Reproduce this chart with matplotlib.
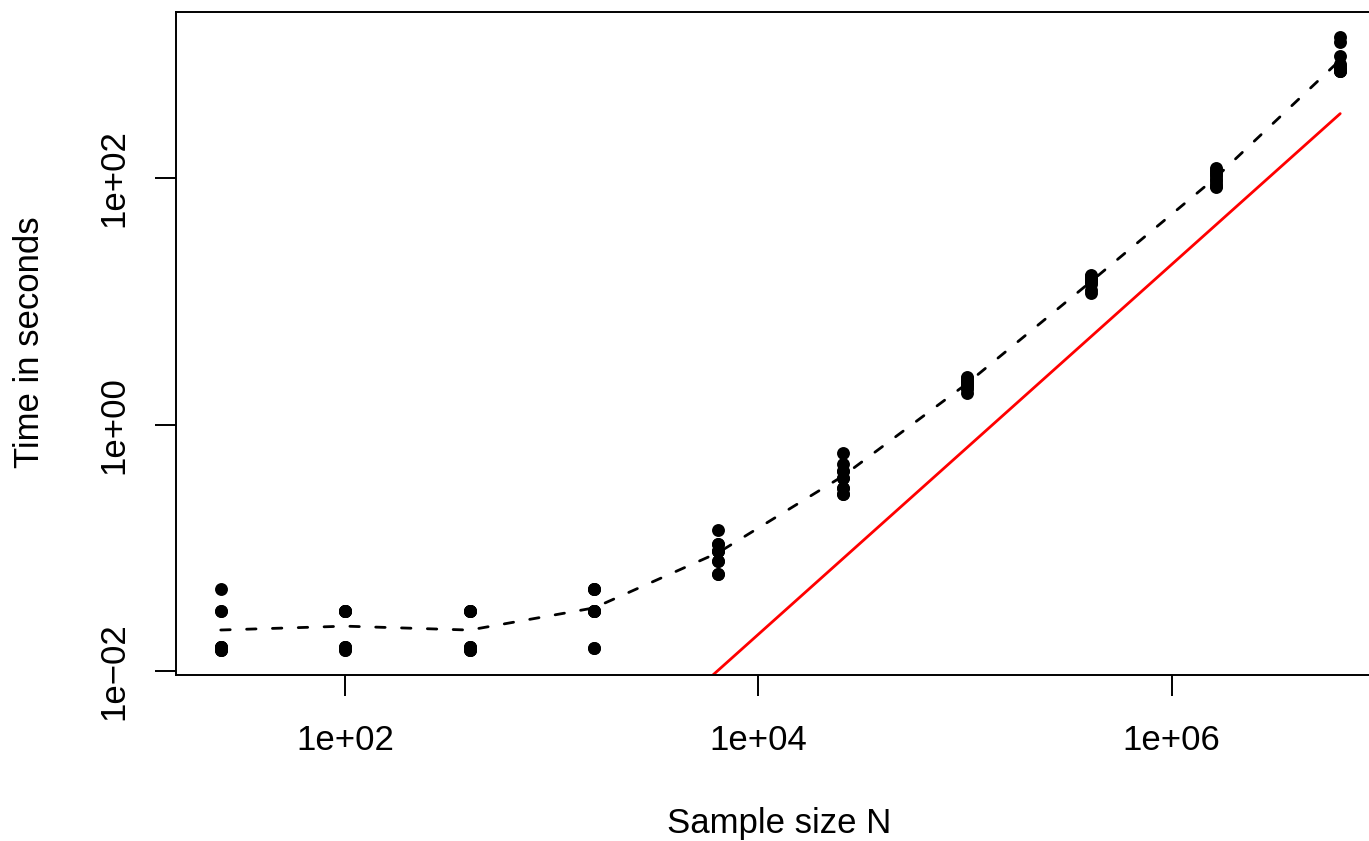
import matplotlib
matplotlib.use("Agg")
import matplotlib.pyplot as plt
import numpy as np

# sample sizes (factor 4 steps)
sizes = [25, 100, 400, 1600, 6400, 25600, 102400, 409600, 1638400, 6553600]

# 10 timing runs per sample size (seconds)
t_25 = [0.0468, 0.0312, 0.0312, 0.0158, 0.0158, 0.0158, 0.0158, 0.0148, 0.0148, 0.0148]
t_100 = [0.0312, 0.0312, 0.0312, 0.0312, 0.0312, 0.0158, 0.0158, 0.0158, 0.0148, 0.0148]
t_400 = [0.0312, 0.0312, 0.0312, 0.0312, 0.0158, 0.0158, 0.0158, 0.0148, 0.0148, 0.0148]
t_1600 = [0.0468, 0.0468, 0.0468, 0.0312, 0.0312, 0.0312, 0.0312, 0.0312, 0.0156, 0.0156]
t_6400 = [0.141, 0.109, 0.109, 0.094, 0.094, 0.094, 0.078, 0.078, 0.062, 0.062]
t_25600 = [0.596, 0.478, 0.423, 0.423, 0.374, 0.374, 0.310, 0.310, 0.274, 0.274]
t_102400 = [2.47, 2.40, 2.30, 2.25, 2.20, 2.15, 2.10, 2.05, 1.95, 1.83]
t_409600 = [16.5, 16.2, 15.8, 15.5, 15.2, 14.8, 14.5, 14.0, 12.5, 11.8]
t_1638400 = [121, 117, 112, 108, 104, 99, 95, 90, 87, 85]
t_6553600 = [1416, 1288, 993, 850, 820, 790, 760, 750, 745, 738]

runs = [t_25, t_100, t_400, t_1600, t_6400, t_25600,
        t_102400, t_409600, t_1638400, t_6553600]

# reference curve  c * N^1.5
ref_coef = 2e-8
ref_power = 1.5

xticks = [1e2, 1e4, 1e6]
xlabels = ["1e+02", "1e+04", "1e+06"]
yticks = [1e-2, 1e0, 1e2]
ylabels = ["1e\u221202", "1e+00", "1e+02"]

plt.rcParams['font.family'] = ['Liberation Sans', 'DejaVu Sans']
W, H = 1369, 841
fig = plt.figure(figsize=(W / 100, H / 100), dpi=100)

# plot region in pixels (right edge falls outside the picture)
left, right, top, bottom = 176, 1385, 12, 675
ax = fig.add_axes([left / W, 1 - bottom / H, (right - left) / W, (bottom - top) / H])

xs = np.array(sizes, dtype=float)
means = np.array([np.mean(r) for r in runs])

for n, r in zip(sizes, runs):
    ax.plot([n] * len(r), r, 'o', color='black', markersize=9.3, markeredgewidth=0)

ax.plot(xs, means, color='black', lw=2.0, dashes=[3.4, 5.9], dash_capstyle='round')
ax.plot(xs, ref_coef * xs ** ref_power, color='red', lw=2.0, solid_capstyle='round')

ax.set_xscale('log')
ax.set_yscale('log')

# R style 4% range extension
allt = np.concatenate([np.array(r, dtype=float) for r in runs])
lx = np.log10(xs)
dx = lx.max() - lx.min()
ax.set_xlim(10 ** (lx.min() - 0.04 * dx), 10 ** (lx.max() + 0.04 * dx))
ly = np.log10(allt)
dy = ly.max() - ly.min()
ax.set_ylim(10 ** (ly.min() - 0.04 * dy), 10 ** (ly.max() + 0.04 * dy))

ax.set_xticks(xticks, xlabels)
ax.set_yticks(yticks, ylabels)
ax.minorticks_off()
ax.tick_params(axis='both', length=15, width=1.4, labelsize=25, direction='out')
ax.tick_params(axis='x', pad=20)
ax.tick_params(axis='y', pad=18)
for lab in ax.get_yticklabels():
    lab.set_rotation(90)
    lab.set_va('center')

for s in ax.spines.values():
    s.set_linewidth(1.4)

fig.text(779 / W, 1 - 823 / H, "Sample size N", fontsize=25, ha='center', va='center')
fig.text(30 / W, 1 - 342 / H, "Time in seconds", fontsize=25, ha='center', va='center',
         rotation=90)

fig.savefig("out.png", dpi=100)
